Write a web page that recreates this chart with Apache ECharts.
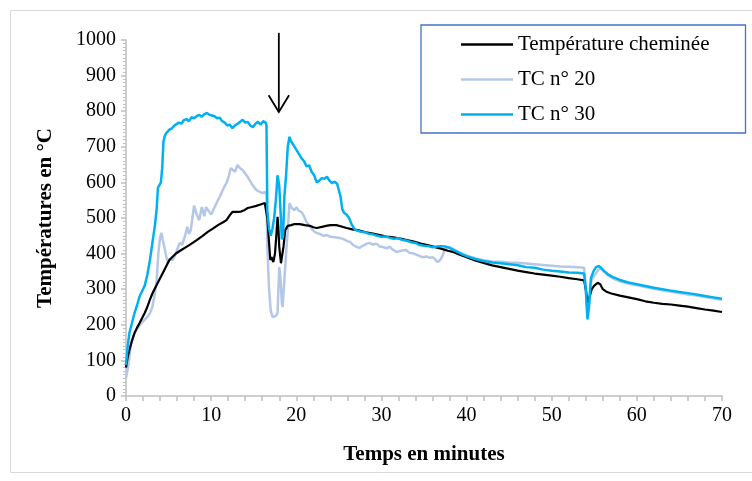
<!DOCTYPE html>
<html>
<head>
<meta charset="utf-8">
<script src="https://cdn.jsdelivr.net/npm/echarts@6/dist/echarts.min.js"></script>
<style>html,body{margin:0;padding:0;background:#fff;}#c{width:752px;height:481px;}</style>
</head>
<body>
<div id="c"></div>
<script>
// ---- Data ----
const seriesNames = ['Température cheminée', 'TC n° 20', 'TC n° 30'];
const xTicks = [0, 10, 20, 30, 40, 50, 60, 70];
const yTicks = [0, 100, 200, 300, 400, 500, 600, 700, 800, 900, 1000];

const tBlack = [0,0.2,0.4,0.7,1.0,1.3,1.6,1.9,2.2,2.5,2.8,3.1,3.3,3.6,3.9,4.2,4.5,4.8,5.1,5.5,5.9,6.5,7.1,7.7,8.3,9.0,9.6,10.2,10.8,11.4,11.8,12.2,12.5,13.0,13.5,13.9,14.3,14.8,15.3,15.8,16.3,16.5,16.6,16.8,16.95,17.1,17.3,17.5,17.65,17.8,17.9,18.0,18.2,18.35,18.5,18.7,19.0,19.4,19.8,20.4,21.0,21.6,22.0,22.4,23.0,23.5,24.0,24.7,25.3,25.9,26.6,27.4,28.2,29.0,29.8,30.6,31.4,32.2,33.0,33.8,34.6,35.4,36.2,37.0,37.8,38.5,39.2,40,41,42,43,44,45,46,47,48,49,50,51,52,53,53.8,54.0,54.2,54.4,54.7,55.0,55.4,55.7,56.0,56.5,57,58,59,60,61,62,63,64,65,66,67,68,69,70];
const vBlack = [80,110,129,155,177,192,205,219,233,250,270,288,298,312,326,340,354,368,382,392,401,410,419,428,438,450,461,470,480,488,494,508,517,517,518,522,528,531,534,538,542,545,500,430,382,390,376,400,450,503,470,419,373,370,420,466,478,480,483,483,480,478,474,472,475,478,480,480,476,472,468,465,460,456,452,448,446,442,438,434,428,424,419,414,408,404,397,390,381,374,367,362,357,352,348,344,341,338,335,331,328,325,300,262,275,300,310,318,314,300,292,288,282,277,272,266,262,259,257,254,251,247,243,240,236];

const t20 = [0,0.15,0.3,0.6,0.9,1.2,1.5,1.8,2.1,2.5,2.8,3.1,3.4,3.6,3.8,4.0,4.15,4.3,4.5,4.7,4.9,5.1,5.3,5.5,5.7,6.0,6.3,6.6,6.9,7.2,7.4,7.6,7.8,8.0,8.3,8.6,8.9,9.2,9.4,9.7,10.0,10.2,10.5,10.8,11.0,11.3,11.6,11.8,12.1,12.3,12.5,12.8,13.1,13.4,13.7,14.0,14.3,14.5,14.8,15.1,15.3,15.6,16.0,16.3,16.5,16.6,16.8,17.0,17.2,17.4,17.6,17.8,17.9,18.0,18.15,18.3,18.4,18.6,18.8,19.0,19.2,19.4,19.6,19.8,20.0,20.3,20.6,20.9,21.2,21.5,21.8,22.1,22.4,22.8,23.2,23.6,24.0,24.5,25.1,25.6,26.0,26.3,26.7,27.0,27.4,27.8,28.3,28.6,29.0,29.4,29.8,30.1,30.6,31.0,31.4,31.8,32.3,32.9,33.3,33.8,34.3,34.8,35.3,35.7,36.0,36.3,36.6,36.9,37.2,37.4,37.7,38.0,38.5,39.0,39.5,40,41,42,43,44,45,46,47,48,49,50,51,52,53,53.8,54.0,54.2,54.4,54.6,54.9,55.2,55.5,55.8,56.2,56.7,57.2,58,59,60,61,62,63,64,65,66,67,68,69,70];
const v20 = [50,45,90,149,170,185,195,205,212,222,232,250,290,326,401,445,458,440,419,395,373,385,390,382,392,410,430,425,447,475,455,465,500,535,510,494,531,505,530,520,510,514,535,550,559,575,590,598,620,640,643,630,649,640,635,625,615,607,595,585,579,575,570,573,565,420,300,240,222,220,225,233,300,362,330,263,250,326,400,466,542,530,525,522,530,520,517,505,489,480,470,462,458,455,450,452,447,446,444,440,435,433,424,420,416,422,428,430,425,428,420,419,415,419,410,404,408,410,402,400,395,390,392,388,390,384,376,382,395,410,418,418,412,405,400,394,387,381,378,377,375,374,372,370,368,366,364,363,362,360,310,220,250,320,335,345,355,358,348,338,330,322,316,311,306,301,297,293,289,285,282,278,274,270];

const t30 = [0,0.2,0.4,0.7,1.0,1.3,1.6,1.9,2.2,2.5,2.8,3.1,3.4,3.6,3.75,3.9,4.1,4.25,4.4,4.55,4.7,4.9,5.1,5.4,5.7,5.9,6.2,6.5,6.8,7.1,7.4,7.7,8.0,8.3,8.6,8.9,9.2,9.5,9.8,10.1,10.4,10.7,11.0,11.3,11.6,11.9,12.2,12.5,12.8,13.1,13.4,13.7,14.0,14.3,14.6,14.9,15.2,15.5,15.8,16.1,16.4,16.5,16.6,16.8,17.0,17.2,17.4,17.6,17.8,17.9,18.0,18.15,18.3,18.45,18.6,18.8,19.0,19.2,19.4,19.6,19.8,20.0,20.3,20.6,20.9,21.2,21.5,21.8,22.1,22.4,22.7,23.0,23.3,23.6,23.9,24.2,24.5,24.8,25.0,25.2,25.4,25.6,25.9,26.2,26.5,26.8,27.1,27.5,28.0,28.5,29.0,29.5,30.0,30.5,31.0,31.5,32.0,32.5,33.0,33.5,34.0,34.5,35.0,35.5,36.0,36.5,37.0,37.5,38.0,38.5,39.0,39.5,40,41,42,43,44,45,46,47,48,49,50,51,52,53,53.8,54.0,54.2,54.4,54.6,54.9,55.2,55.5,55.8,56.2,56.7,57.2,58,59,60,61,62,63,64,65,66,67,68,69,70];
const v30 = [87,140,177,205,233,255,280,295,310,340,380,430,480,525,585,590,600,640,715,730,738,742,748,752,760,758,768,765,775,778,772,783,780,786,790,784,792,795,790,788,786,780,782,772,768,760,762,752,760,765,770,776,768,770,760,755,765,770,762,772,768,760,520,470,450,470,500,550,620,625,590,520,440,450,560,620,700,728,715,720,700,705,680,668,660,645,648,630,620,600,605,612,610,616,605,598,602,596,600,560,525,515,510,500,482,470,465,462,460,456,454,450,447,448,444,442,443,438,436,432,430,424,422,421,418,420,421,420,416,410,404,398,393,385,379,375,373,370,367,362,360,355,352,350,347,346,344,300,215,260,330,350,362,365,360,350,340,334,326,319,314,309,304,300,296,292,289,285,281,277,273];

// arrow annotation (data coordinates)
const arrowT = 17.95, arrowTopV = 1020, arrowTipV = 798, arrowWingV = 845, arrowWingDT = 1.2;

const zip = (t, v) => t.map((x, i) => [x, v[i]]);

const serif = 'Liberation Serif, Times New Roman, serif';
const axisGrey = '#bfbfbf';

const chart = echarts.init(document.getElementById('c'), null, {renderer: 'canvas'});
const option = {
  backgroundColor: '#ffffff',
  animation: false,
  grid: {left: 126, right: 30, top: 40, bottom: 85, containLabel: false},
  legend: {
    data: seriesNames,
    orient: 'vertical',
    left: 421, top: 25,
    padding: [9, 36, 8, 40],
    icon: 'rect',
    itemWidth: 52, itemHeight: 2.5, itemGap: 14,
    borderColor: '#4472c4', borderWidth: 1.3,
    backgroundColor: '#fff',
    textStyle: {fontFamily: serif, fontSize: 21, color: '#000', lineHeight: 21}
  },
  xAxis: {
    type: 'value', min: 0, max: 70, interval: 10,
    name: 'Temps en minutes', nameLocation: 'middle', nameGap: 48,
    nameTextStyle: {fontFamily: serif, fontSize: 21, fontWeight: 'bold', color: '#000'},
    axisLine: {show: true, lineStyle: {color: axisGrey, width: 1.5}},
    axisTick: {show: true, length: 5, lineStyle: {color: axisGrey, width: 1.5}},
    minorTick: {show: true, splitNumber: 5, length: 5, lineStyle: {color: axisGrey, width: 1.5}},
    splitLine: {show: false},
    axisLabel: {fontFamily: serif, fontSize: 20, color: '#000', margin: 10,
      formatter: v => xTicks.includes(v) ? String(v) : ''}
  },
  yAxis: {
    type: 'value', min: 0, max: 1000, interval: 100,
    name: 'Températures en °C', nameLocation: 'middle', nameGap: 70, nameRotate: 90,
    nameTextStyle: {fontFamily: serif, fontSize: 21, fontWeight: 'bold', color: '#000'},
    axisLine: {show: true, lineStyle: {color: axisGrey, width: 1.5}},
    axisTick: {show: true, length: 5, lineStyle: {color: axisGrey, width: 1.5}},
    minorTick: {show: true, splitNumber: 10, length: 3, lineStyle: {color: axisGrey, width: 1}},
    splitLine: {show: false},
    axisLabel: {fontFamily: serif, fontSize: 20, color: '#000', margin: 10,
      formatter: v => yTicks.includes(v) ? String(v) : ''}
  },
  series: [
    {name: seriesNames[1], type: 'line', data: zip(t20, v20), showSymbol: false, symbol: 'none',
      lineStyle: {color: '#b4c7e7', width: 2.5}, itemStyle: {color: '#b4c7e7'}, z: 2},
    {name: seriesNames[0], type: 'line', data: zip(tBlack, vBlack), showSymbol: false, symbol: 'none',
      lineStyle: {color: '#000000', width: 2.2}, itemStyle: {color: '#000000'}, z: 3},
    {name: seriesNames[2], type: 'line', data: zip(t30, v30), showSymbol: false, symbol: 'none',
      lineStyle: {color: '#00b0f0', width: 2.5}, itemStyle: {color: '#00b0f0'}, z: 4}
  ]
};
chart.setOption(option);

function drawExtras() {
  const top = chart.convertToPixel({gridIndex: 0}, [arrowT, arrowTopV]);
  const tip = chart.convertToPixel({gridIndex: 0}, [arrowT, arrowTipV]);
  const wl = chart.convertToPixel({gridIndex: 0}, [arrowT - arrowWingDT, arrowWingV]);
  const wr = chart.convertToPixel({gridIndex: 0}, [arrowT + arrowWingDT, arrowWingV]);
  chart.setOption({
    graphic: [
      {type: 'rect', silent: true, z: -10,
        shape: {x: 10.5, y: 10.5, width: 745, height: 462},
        style: {fill: null, stroke: '#d9d9d9', lineWidth: 1}},
      {type: 'polyline', silent: true, z: 100,
        shape: {points: [top, tip]}, style: {stroke: '#000', lineWidth: 1.8, fill: null}},
      {type: 'polyline', silent: true, z: 100,
        shape: {points: [wl, tip, wr]}, style: {stroke: '#000', lineWidth: 1.8, fill: null}}
    ]
  });
}
drawExtras();
</script>
</body>
</html>
